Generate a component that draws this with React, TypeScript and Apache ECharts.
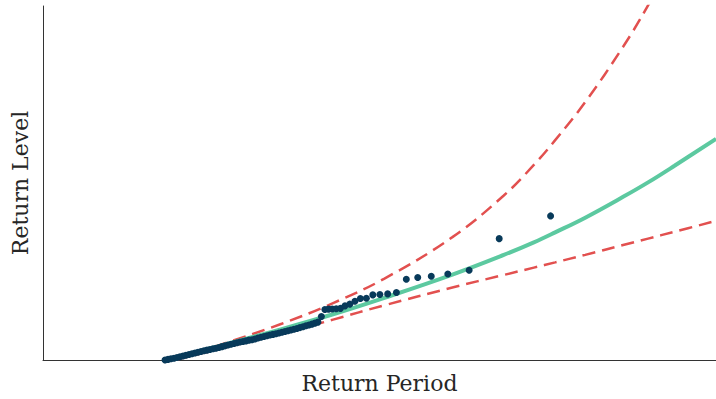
import React, { useEffect, useRef } from "react";
import * as echarts from "echarts";

// Observed annual maxima: return period (years) and return level
const obsReturnPeriod = [
  1.037, 1.08, 1.124, 1.171, 1.219, 1.269, 1.322, 1.376, 1.433, 1.492,
  1.554, 1.618, 1.685, 1.754, 1.827, 1.902, 1.981, 2.062, 2.147, 2.236,
  2.328, 2.424, 2.524, 2.629, 2.737, 2.85, 2.968, 3.091, 3.218, 3.351,
  3.489, 3.633, 3.783, 3.94, 4.102, 4.272, 4.448, 4.632, 4.823, 5.022,
  5.229, 5.445, 5.67, 5.905, 6.148, 6.402, 6.667, 6.942, 7.229, 7.527,
  7.838, 8.162,
  8.545, 8.952, 9.4, 9.895, 10.44, 11.06, 11.75, 12.53, 13.43, 14.46,
  15.67, 17.09, 18.8, 20.89, 23.5, 26.86, 31.33, 37.6, 47, 62.67, 94, 188,
];
const obsLevel = [
  10.0, 10.12, 10.24, 10.36, 10.5, 10.65, 10.8, 10.95, 11.1, 11.25,
  11.4, 11.55, 11.7, 11.85, 11.98, 12.1, 12.24, 12.36, 12.5, 12.68,
  12.84, 13.0, 13.16, 13.3, 13.46, 13.6, 13.72, 13.84, 13.98, 14.05,
  14.2, 14.4, 14.55, 14.7, 14.85, 15.0, 15.14, 15.28, 15.42, 15.56,
  15.7, 15.85, 16.0, 16.15, 16.32, 16.5, 16.68, 16.86, 17.02, 17.2,
  17.4, 17.6,
  18.74, 20.14, 20.2, 20.24, 20.28, 20.36, 20.86, 21.2, 21.8, 22.34,
  22.4, 23.06, 23.14, 23.26, 23.54, 26.2, 26.54, 26.8, 27.24, 28.0, 34.34, 38.9,
];

// Fitted return level curve
const fitReturnPeriod = [1.04, 2, 5, 10, 20, 50, 100, 150, 200, 300, 500, 700, 1000, 1750];
const fitLevel = [10.0, 12.53, 16.2, 19.18, 22.47, 27.13, 31.07, 33.6, 35.6, 38.55, 42.72, 45.62, 48.96, 54.36];

// Confidence interval bounds
const ciReturnPeriod = [1.2, 2, 5, 10, 20, 50, 100, 150, 200, 300, 500, 700, 1000, 1750];
const ciUpper = [10.44, 12.64, 17.27, 21.41, 26.33, 34.64, 42.99, 49.13, 54.1, 61.74, 72.83, 81.12, 90.9, 107.9];
const ciLower = [10.04, 11.94, 15.33, 18.1, 20.98, 24.54, 27.06, 28.53, 29.58, 31.09, 33.05, 34.35, 35.73, 37.9];

const FONT = "DejaVu Serif";
const AXIS_COLOR = "#333333";
const RED = "#e2504f";
const GREEN = "#5cc9a0";
const NAVY = "#083a5a";

export default function App() {
  const ref = useRef<HTMLDivElement>(null);
  useEffect(() => {
    if (!ref.current) return;
    const chart = echarts.init(ref.current, null, { renderer: "svg" });
    const zip = (xs: number[], ys: number[]) => xs.map((x, i) => [x, ys[i]]);
    chart.setOption({
      animation: false,
      backgroundColor: "#ffffff",
      grid: { left: 43, right: 0, top: 6, bottom: 38 },
      xAxis: {
        type: "log",
        logBase: 10,
        min: 0.2,
        max: 1750,
        name: "Return Period",
        nameLocation: "middle",
        nameGap: 12,
        nameTextStyle: { fontFamily: FONT, fontSize: 22, color: "#262626" },
        axisLine: { show: true, onZero: false, lineStyle: { color: AXIS_COLOR, width: 1 } },
        axisTick: { show: false },
        axisLabel: { show: false },
        splitLine: { show: false },
      },
      yAxis: {
        type: "value",
        min: 10,
        max: 81,
        name: "Return Level",
        nameLocation: "middle",
        nameGap: 12,
        nameTextStyle: { fontFamily: FONT, fontSize: 22, color: "#262626" },
        axisLine: { show: true, onZero: false, lineStyle: { color: AXIS_COLOR, width: 1 } },
        axisTick: { show: false },
        axisLabel: { show: false },
        splitLine: { show: false },
      },
      series: [
        {
          type: "line",
          data: zip(ciReturnPeriod, ciUpper),
          smooth: 0.4,
          showSymbol: false,
          clip: true,
          lineStyle: { color: RED, width: 2.5, type: [13, 7] },
          z: 1,
        },
        {
          type: "line",
          data: zip(ciReturnPeriod, ciLower),
          smooth: 0.4,
          showSymbol: false,
          clip: true,
          lineStyle: { color: RED, width: 2.5, type: [13, 7] },
          z: 1,
        },
        {
          type: "line",
          data: zip(fitReturnPeriod, fitLevel),
          smooth: 0.4,
          showSymbol: false,
          clip: true,
          lineStyle: { color: GREEN, width: 4 },
          z: 2,
        },
        {
          type: "scatter",
          data: zip(obsReturnPeriod, obsLevel),
          symbolSize: 7,
          itemStyle: { color: NAVY, opacity: 1 },
          clip: false,
          z: 3,
        },
      ],
    });
    return () => chart.dispose();
  }, []);
  return (
    <div
      ref={ref}
      style={{ position: "absolute", left: 0, top: 0, width: 716, height: 399 }}
    />
  );
}
